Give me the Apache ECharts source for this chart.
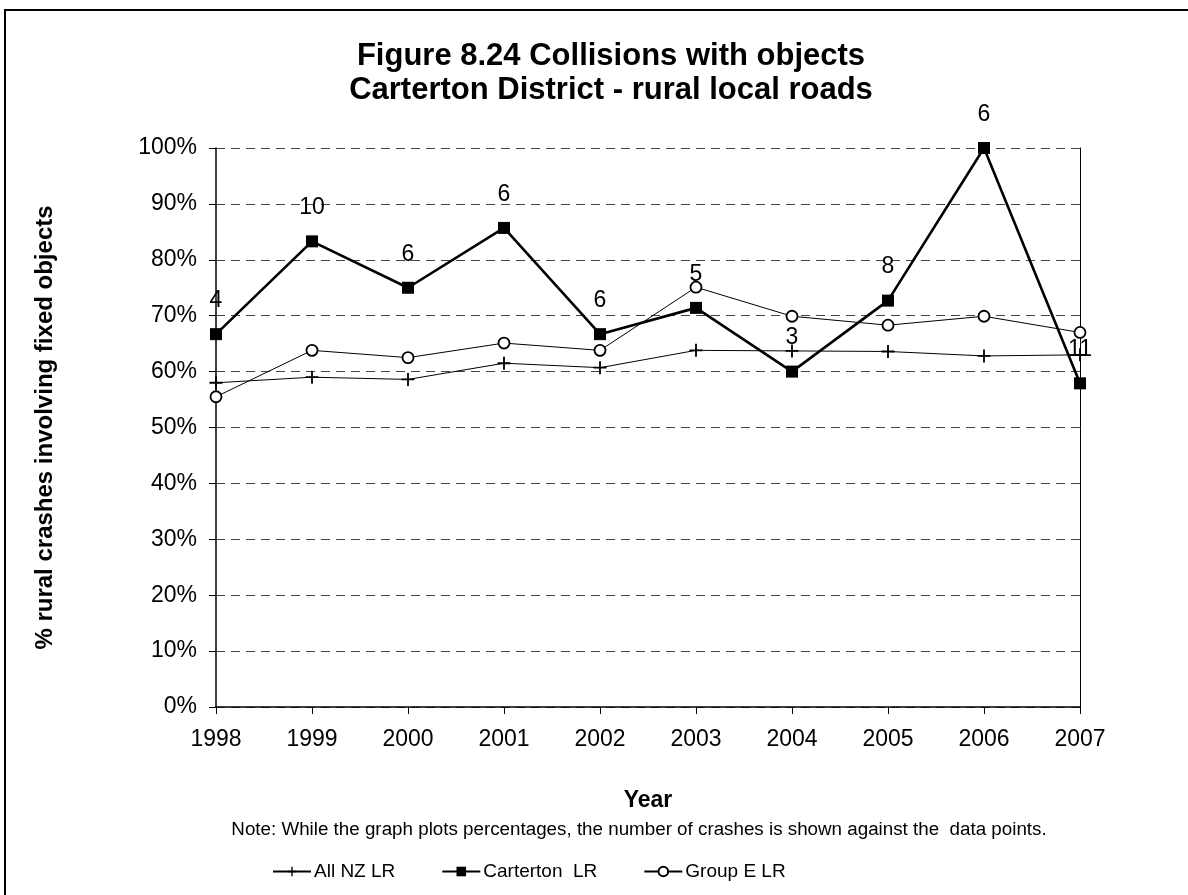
<!DOCTYPE html>
<html>
<head>
<meta charset="utf-8">
<script src="https://cdn.jsdelivr.net/npm/echarts@6/dist/echarts.min.js"></script>
<style>
  html, body { margin: 0; padding: 0; background: #fff; }
  #chart { width: 1188px; height: 895px; }
</style>
</head>
<body>
<div id="chart"></div>
<script>
// data
const years = ['1998', '1999', '2000', '2001', '2002', '2003', '2004', '2005', '2006', '2007']
const allNZ = [58.0, 59.0, 58.6, 61.5, 60.7, 63.8, 63.7, 63.6, 62.8, 63.0]
const carterton = [66.7, 83.3, 75.0, 85.7, 66.7, 71.4, 60.0, 72.7, 100, 57.9]
const groupE = [55.5, 63.8, 62.5, 65.1, 63.8, 75.1, 69.9, 68.3, 69.9, 67.0]
const cartertonCounts = [4, 10, 6, 6, 6, 5, 3, 8, 6, 11]

const FONT = 'Liberation Sans, Arial, sans-serif'
const plusPath = 'path://M4.3,0H5.7V4.3H10V5.7H5.7V10H4.3V5.7H0V4.3H4.3Z'

const chart = echarts.init(document.getElementById('chart'))
const option = {
  backgroundColor: '#fff',
  animation: false,
  textStyle: { fontFamily: FONT, color: '#000' },
  title: {
    text: 'Figure 8.24 Collisions with objects\nCarterton District - rural local roads',
    left: 606,
    top: 34,
    textAlign: 'center',
    textStyle: { fontSize: 31, fontWeight: 'bold', lineHeight: 34, color: '#000', fontFamily: FONT }
  },
  grid: { left: 216, right: 108, top: 148, bottom: 188 },
  legend: {
    top: 862,
    left: 272,
    padding: 0,
    itemWidth: 38,
    itemHeight: 12,
    itemGap: 46,
    textStyle: { fontSize: 19, color: '#000', fontFamily: FONT, padding: [0, 0, 0, -2] },
    data: ['All NZ LR', 'Carterton  LR', 'Group E LR']
  },
  xAxis: {
    type: 'category',
    data: years,
    boundaryGap: false,
    name: 'Year',
    nameLocation: 'middle',
    nameGap: 82,
    nameTextStyle: { fontSize: 23, fontWeight: 'bold', color: '#000' },
    axisLine: { lineStyle: { color: '#000', width: 1.5 } },
    axisTick: { show: true, length: 7, lineStyle: { color: '#000' } },
    axisLabel: { fontSize: 23, color: '#000', margin: 21 },
    splitLine: { show: false }
  },
  yAxis: [
    {
      type: 'value',
      min: 0,
      max: 100,
      interval: 10,
      name: '% rural crashes involving fixed objects',
      nameLocation: 'middle',
      nameGap: 159,
      nameTextStyle: { fontSize: 24, fontWeight: 'bold', color: '#000' },
      axisLine: { show: true, lineStyle: { color: '#000', width: 1.5 } },
      axisTick: { show: true, length: 7, lineStyle: { color: '#000' } },
      axisLabel: { fontSize: 23, color: '#000', margin: 19, formatter: '{value}%' },
      splitLine: { show: true, lineStyle: { color: '#444', type: [9, 6], width: 1 } }
    },
    {
      type: 'value',
      min: 0,
      max: 100,
      position: 'right',
      axisLine: { show: true, lineStyle: { color: '#000', width: 1 } },
      axisTick: { show: false },
      axisLabel: { show: false },
      splitLine: { show: false }
    }
  ],
  graphic: [
    {
      type: 'polyline',
      shape: { points: [[5, 900], [5, 10], [1190, 10]] },
      style: { stroke: '#000', lineWidth: 2, fill: null }
    },
    {
      type: 'text',
      x: 639,
      y: 830,
      style: {
        text: 'Note: While the graph plots percentages, the number of crashes is shown against the  data points.',
        fontSize: 18.8,
        fontFamily: FONT,
        fill: '#000',
        align: 'center',
        verticalAlign: 'middle'
      }
    }
  ],
  series: [
    {
      name: 'All NZ LR',
      type: 'line',
      data: allNZ,
      symbol: plusPath,
      symbolSize: 13,
      lineStyle: { color: '#000', width: 1 },
      itemStyle: { color: '#000' },
      z: 3
    },
    {
      name: 'Group E LR',
      type: 'line',
      data: groupE,
      symbol: 'circle',
      symbolSize: 11,
      lineStyle: { color: '#000', width: 1 },
      itemStyle: { color: '#fff', borderColor: '#000', borderWidth: 1.8 },
      z: 3
    },
    {
      name: 'Carterton  LR',
      type: 'line',
      data: carterton,
      symbol: 'rect',
      symbolSize: 12,
      lineStyle: { color: '#000', width: 2.6 },
      itemStyle: { color: '#000' },
      label: {
        show: true,
        position: 'top',
        distance: 16,
        fontSize: 23,
        color: '#000',
        formatter: p => cartertonCounts[p.dataIndex]
      },
      z: 4
    }
  ]
}
chart.setOption(option)
</script>
</body>
</html>
